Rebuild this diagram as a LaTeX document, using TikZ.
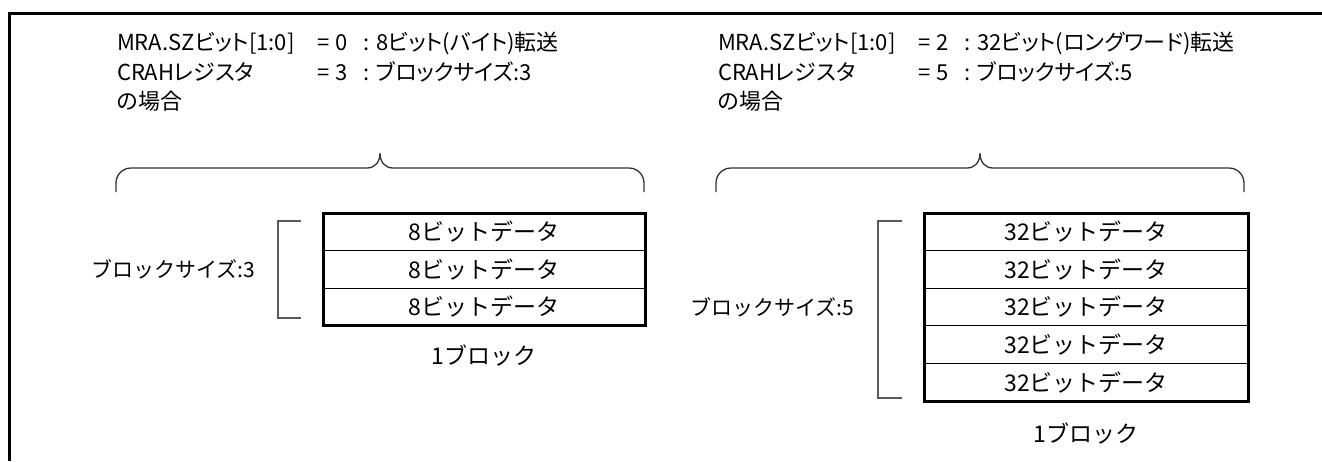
\documentclass[tikz,border=0pt]{standalone}
\usepackage{fontspec}
\setmainfont{Noto Sans CJK JP}
\newfontfamily\hdrfont[RawFeature=+palt]{Noto Sans CJK JP}
\begin{document}
\begin{tikzpicture}[x=1pt,y=-1pt,
  every node/.style={inner sep=0pt,outer sep=0pt,font=\fontsize{21}{25}\selectfont},
  hdr/.style={anchor=base west,font=\hdrfont\fontsize{22}{26}\selectfont},
  big/.style={font=\fontsize{23}{27}\selectfont},
  cell/.style={draw=black,line width=1.2pt,minimum width=322pt,minimum height=37.6pt,anchor=north west,big},
  frameline/.style={line width=3pt,black},
  bracestyle/.style={line width=1.3pt,draw=black!80},
  bracketstyle/.style={line width=1.3pt,draw=black!65}]
\useasboundingbox (0,0) rectangle (1322,461);
% frame (top and left)
\draw[frameline] (9.5,461) -- (9.5,13.5) -- (1322,13.5);

% ---------- left header ----------
\node[hdr] (la1) at (117,50) {MRA.SZビット[1:0]};
\node[hdr] (lb1) at (317,50) {=\hspace{6pt}0};
\node[hdr] (lc1) at (363,50) {:\hspace{7pt}8ビット(バイト)転送};
\node[hdr] (la2) at (117,80) {CRAHレジスタ};
\node[hdr] (lb2) at (317,80) {=\hspace{6pt}3};
\node[hdr] (lc2) at (363,80) {:\hspace{7pt}ブロックサイズ:3};
\node[hdr] (la3) at (117,109) {の場合};

% ---------- right header ----------
\node[hdr] (ra1) at (718,50) {MRA.SZビット[1:0]};
\node[hdr] (rb1) at (918,50) {=\hspace{6pt}2};
\node[hdr] (rc1) at (964,50) {:\hspace{7pt}32ビット(ロングワード)転送};
\node[hdr] (ra2) at (718,80) {CRAHレジスタ};
\node[hdr] (rb2) at (918,80) {=\hspace{6pt}5};
\node[hdr] (rc2) at (964,80) {:\hspace{7pt}ブロックサイズ:5};
\node[hdr] (ra3) at (718,109) {の場合};

% ---------- braces ----------
\draw[bracestyle] (116,192) -- (116,183) arc[start angle=180,end angle=270,radius=15]
  -- (367,168) .. controls (375,168) and (380,162) .. (380,153)
  .. controls (380,162) and (385,168) .. (393,168)
  -- (629,168) arc[start angle=270,end angle=360,radius=15] -- (644,192);
\draw[bracestyle] (716,192) -- (716,183) arc[start angle=180,end angle=270,radius=15]
  -- (967,168) .. controls (975,168) and (980,162) .. (980,153)
  .. controls (980,162) and (985,168) .. (993,168)
  -- (1229,168) arc[start angle=270,end angle=360,radius=15] -- (1244,192);

% ---------- left block ----------
\node[cell] (l1) at (323,213) {8ビットデータ};
\node[cell,anchor=north] (l2) at (l1.south) {8ビットデータ};
\node[cell,anchor=north] (l3) at (l2.south) {8ビットデータ};
\draw[line width=3pt] (l1.north west) rectangle (l3.south east);
\coordinate (lbt) at (301,221);
\coordinate (lbb) at (301,318);
\draw[bracketstyle] (lbt) -- (278,221) -- (278,318) -- (lbb);
\node (lsize) at (173,269.5) {ブロックサイズ:3};
\node[big] (lblk) at (484,356) {1ブロック};

% ---------- right block ----------
\node[cell,minimum width=324pt] (r1) at (924,213) {32ビットデータ};
\node[cell,minimum width=324pt,anchor=north] (r2) at (r1.south) {32ビットデータ};
\node[cell,minimum width=324pt,anchor=north] (r3) at (r2.south) {32ビットデータ};
\node[cell,minimum width=324pt,anchor=north] (r4) at (r3.south) {32ビットデータ};
\node[cell,minimum width=324pt,anchor=north] (r5) at (r4.south) {32ビットデータ};
\draw[line width=3pt] (r1.north west) rectangle (r5.south east);
\coordinate (rbt) at (902,221);
\coordinate (rbb) at (902,398);
\draw[bracketstyle] (rbt) -- (878,221) -- (878,398) -- (rbb);
\node (rsize) at (772,307) {ブロックサイズ:5};
\node[big] (rblk) at (1086,433) {1ブロック};
\end{tikzpicture}
\end{document}
